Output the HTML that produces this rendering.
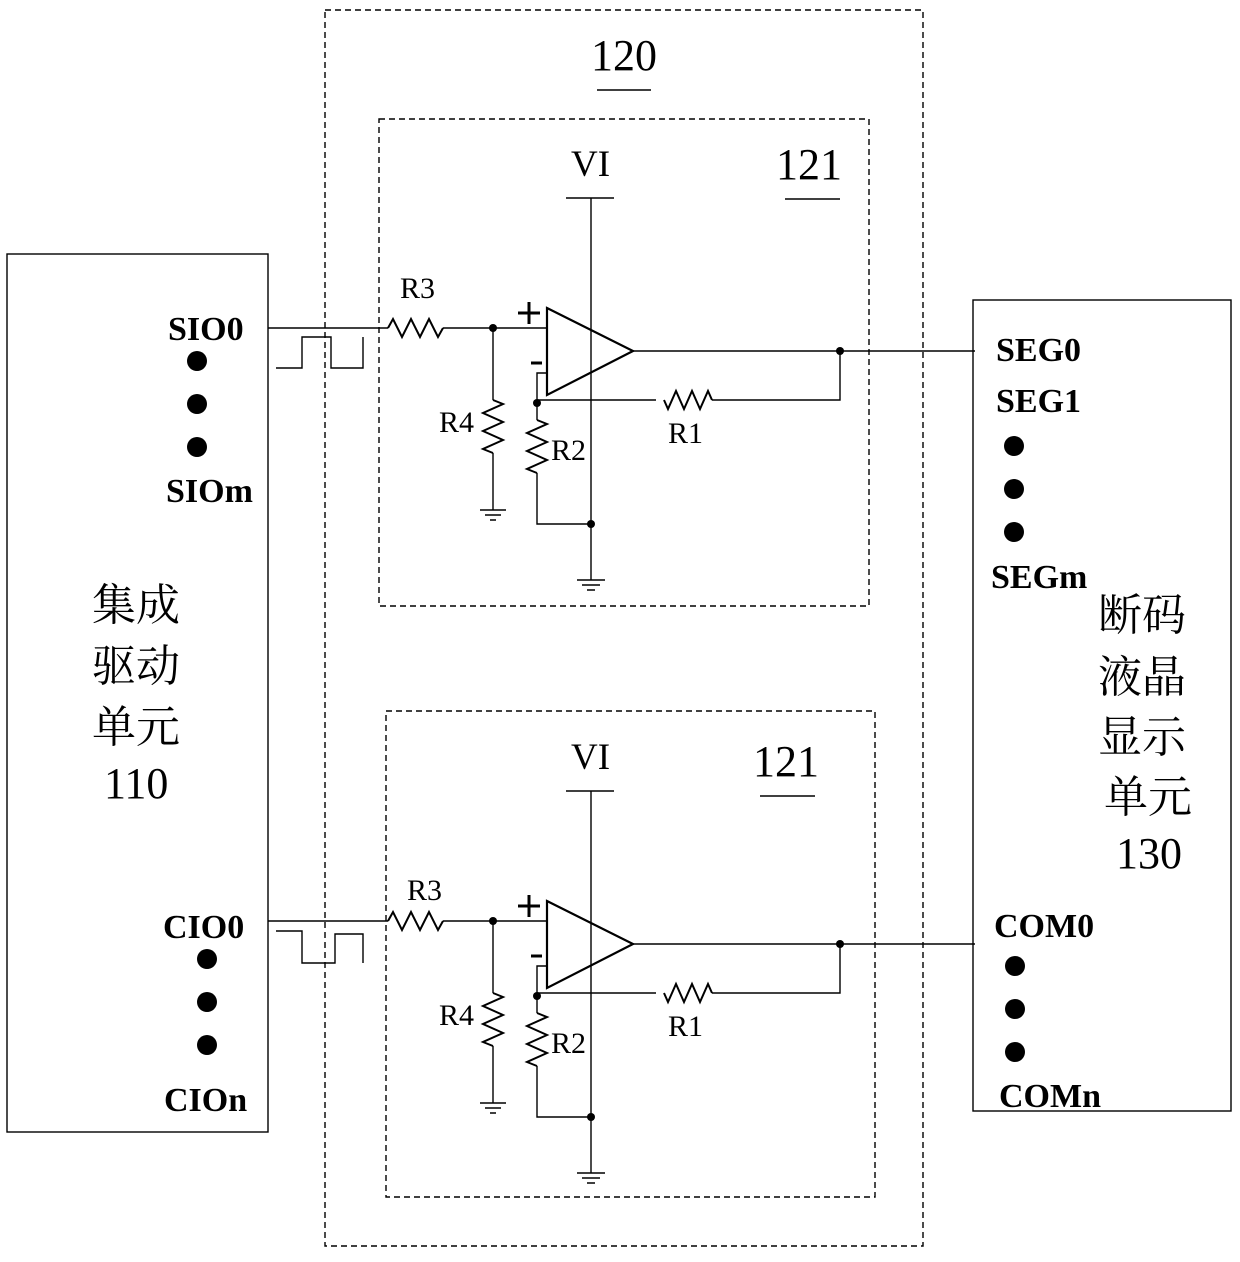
<!DOCTYPE html>
<html><head><meta charset="utf-8"><style>
body{margin:0;background:#fff}
text{font-family:"Liberation Serif","Noto Serif CJK SC",serif;fill:#000}
</style></head><body>
<svg width="1240" height="1257" viewBox="0 0 1240 1257" xmlns="http://www.w3.org/2000/svg">
<defs>
<g id="amp" stroke="#000" fill="none" stroke-width="1.4">
  <path d="M268 328H388"/>
  <path d="M388 328l5-9 9 18 9-18 9 18 9-18 9 18 5-9" stroke-width="2"/>
  <path d="M443 328H547"/>
  <circle cx="493" cy="328" r="4" fill="#000" stroke="none"/>
  <path d="M547 308L633 351L547 395Z" stroke-width="2.2"/>
  <path d="M633 351H975"/>
  <circle cx="840" cy="351" r="4" fill="#000" stroke="none"/>
  <path d="M840 351V400H712"/>
  <path d="M712 400l-4-9-8 18-8-18-8 18-8-18-8 18-4-9" stroke-width="2"/>
  <path d="M656 400H537"/>
  <path d="M547 373H537V403"/>
  <circle cx="537" cy="403" r="4" fill="#000" stroke="none"/>
  <path d="M537 403V420"/>
  <path d="M537 420l10 4-20 9 20 9-20 9 20 9-20 9 10 4" stroke-width="2"/>
  <path d="M537 473V524H591"/>
  <circle cx="591" cy="524" r="4" fill="#000" stroke="none"/>
  <path d="M493 328V400"/>
  <path d="M493 400l10 4-20 9 20 9-20 9 20 9-20 9 10 4" stroke-width="2"/>
  <path d="M493 453V510"/>
  <path d="M480 510H506M485 515H501M490 520H496"/>
  <path d="M591 198V580M566 198H614"/>
  <path d="M577 580H605M582 585H600M587 590H595"/>
  <path d="M518 313H540M529 302V324" stroke-width="3"/>
  <path d="M531 363H542" stroke-width="3"/>
</g>
</defs>
<g fill="none" stroke="#000" stroke-width="1.4">
<rect x="7" y="254" width="261" height="878"/>
<rect x="973" y="300" width="258" height="811"/>
<rect x="325" y="10" width="598" height="1236" stroke-dasharray="6,4"/>
<rect x="379" y="119" width="490" height="487" stroke-dasharray="6,4"/>
<rect x="386" y="711" width="489" height="486" stroke-dasharray="6,4"/>
<path d="M597 90H651M785 199H840M760 796H815"/>
<path d="M276 368H302V337H331V368H363V337"/>
<path d="M276 931H302V963H335V934H363V963"/>
</g>
<use href="#amp"/>
<use href="#amp" transform="translate(0,593)"/>
<g font-size="34" font-weight="bold">
<text x="168" y="340">SIO0</text><text x="166" y="502">SIOm</text>
<text x="163" y="938">CIO0</text><text x="164" y="1111">CIOn</text>
<text x="996" y="361">SEG0</text><text x="996" y="412">SEG1</text>
<text x="991" y="588">SEGm</text>
<text x="994" y="937">COM0</text><text x="999" y="1107">COMn</text>
</g>
<g font-size="30">
<text x="400" y="298">R3</text><text x="439" y="432">R4</text>
<text x="551" y="460">R2</text><text x="668" y="443">R1</text>
<text x="407" y="900">R3</text><text x="439" y="1025">R4</text>
<text x="551" y="1053">R2</text><text x="668" y="1036">R1</text>
<text x="571" y="176" font-size="37">VI</text><text x="571" y="769" font-size="37">VI</text>
<text x="591" y="70" font-size="44">120</text>
<text x="776" y="179" font-size="44">121</text><text x="753" y="776" font-size="44">121</text>
</g>
<g fill="#000">
<circle cx="197" cy="361" r="10"/><circle cx="197" cy="404" r="10"/><circle cx="197" cy="447" r="10"/>
<circle cx="207" cy="959" r="10"/><circle cx="207" cy="1002" r="10"/><circle cx="207" cy="1045" r="10"/>
<circle cx="1014" cy="446" r="10"/><circle cx="1014" cy="489" r="10"/><circle cx="1014" cy="532" r="10"/>
<circle cx="1015" cy="966" r="10"/><circle cx="1015" cy="1009" r="10"/><circle cx="1015" cy="1052" r="10"/>
</g>
<g font-size="44">
<text x="92" y="620">集成</text><text x="92" y="681">驱动</text><text x="92" y="742">单元</text>
<text x="104" y="798">110</text>
<text x="1098" y="630">断码</text><text x="1098" y="692">液晶</text><text x="1098" y="752">显示</text>
<text x="1104" y="812">单元</text><text x="1116" y="868">130</text>
</g>
</svg>
</body></html>
